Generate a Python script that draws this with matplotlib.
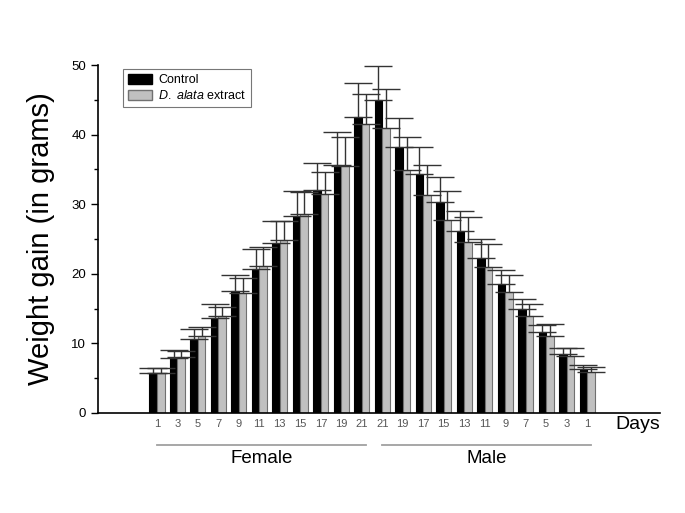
import numpy as np
import matplotlib.pyplot as plt
from matplotlib.patches import Patch

plt.rcParams['font.family'] = ['Liberation Sans', 'DejaVu Sans']
plt.rcParams['mathtext.fontset'] = 'custom'
plt.rcParams['mathtext.it'] = 'Liberation Sans:italic'
plt.rcParams['mathtext.rm'] = 'Liberation Sans'

# Day labels: female days 1..21, then male days 21..1
day_labels = ['1', '3', '5', '7', '9', '11', '13', '15', '17', '19', '21',
              '21', '19', '17', '15', '13', '11', '9', '7', '5', '3', '1']

# Mean weight gain (g)
control = [5.7, 7.9, 10.7, 13.7, 17.5, 20.7, 24.5, 28.3, 32.0, 35.7, 42.5,
           45.0, 38.2, 34.3, 30.3, 26.2, 22.3, 18.5, 15.0, 11.7, 8.5, 6.3]
extract = [5.7, 8.1, 11.0, 13.9, 17.3, 21.1, 24.8, 28.6, 31.5, 35.5, 41.6,
           41.0, 34.9, 31.4, 27.8, 24.6, 21.0, 17.4, 13.9, 11.1, 8.2, 5.9]
# Upper end of error bars
control_top = [6.5, 9.0, 12.1, 15.7, 19.9, 23.6, 27.6, 31.9, 35.9, 40.4, 47.5,
               49.9, 42.4, 38.3, 33.9, 29.0, 25.0, 20.6, 16.4, 12.7, 9.3, 6.9]
extract_top = [6.4, 8.9, 12.3, 15.3, 19.4, 23.9, 27.6, 31.7, 34.6, 39.6, 45.9,
               46.6, 39.6, 35.7, 31.9, 28.2, 24.3, 19.9, 15.7, 12.8, 9.3, 6.6]

control = np.array(control)
extract = np.array(extract)
err_c = np.array(control_top) - control
err_e = np.array(extract_top) - extract

x = np.arange(len(day_labels))
w = 0.37

fig = plt.figure(figsize=(6.85, 5.13), dpi=100)
ax = fig.add_axes([0.143, 0.195, 0.8205, 0.678])

ax.bar(x - w / 2, control, w, color='black', edgecolor='black', linewidth=0.8)
ax.bar(x + w / 2, extract, w, color='#c0c0c0', edgecolor='#707070', linewidth=0.8)
ax.errorbar(x - w / 2, control, yerr=[np.zeros_like(err_c), err_c], fmt='none',
            ecolor='#333333', elinewidth=1, capsize=10, capthick=1)
ax.errorbar(x + w / 2, extract, yerr=[np.zeros_like(err_e), err_e], fmt='none',
            ecolor='#333333', elinewidth=1, capsize=10, capthick=1)

ax.set_xlim(-2.88, 24.56)
ax.set_ylim(0, 50)
ax.set_yticks([0, 10, 20, 30, 40, 50])
ax.set_yticks([5, 15, 25, 35, 45], minor=True)
ax.tick_params(axis='y', which='major', length=5, width=1, labelsize=9.5, direction='out')
ax.tick_params(axis='y', which='minor', length=3, width=1, direction='out')
ax.set_xticks(x)
ax.set_xticklabels(day_labels, fontsize=8, color='#555555')
ax.tick_params(axis='x', length=0, pad=4)

for s in ['top', 'right']:
    ax.spines[s].set_visible(False)
ax.spines['left'].set_linewidth(1.2)
ax.spines['bottom'].set_linewidth(1.2)

ax.set_ylabel('Weight gain (in grams)', fontsize=21, labelpad=12)

# "Days" axis label at right end
fig.text(0.963, 0.172, 'Days', fontsize=14, ha='right', va='center')

# Female / Male group markers
for lo, hi, name in [(0, 10, 'Female'), (11, 21, 'Male')]:
    ax.plot([lo - 0.02, hi + 0.2], [-4.6, -4.6], color='#a0a0a0', lw=1.3,
            clip_on=False)
    ax.text((lo + hi) / 2 + 0.1, -6.6, name, fontsize=13.5, ha='center', va='center')

handles = [Patch(facecolor='black', edgecolor='black', label='Control'),
           Patch(facecolor='#c0c0c0', edgecolor='#707070',
                 label=r'$\it{D.}$ $\it{alata}$ extract')]
leg = ax.legend(handles=handles, loc='upper left', bbox_to_anchor=(0.0445, 0.99),
                borderaxespad=0, fontsize=9, frameon=True, fancybox=False,
                edgecolor='#555555', handlelength=1.9, handleheight=0.85,
                handletextpad=0.5, borderpad=0.4, labelspacing=0.25)
leg.get_frame().set_linewidth(0.8)

fig.savefig('out.png', dpi=100)
